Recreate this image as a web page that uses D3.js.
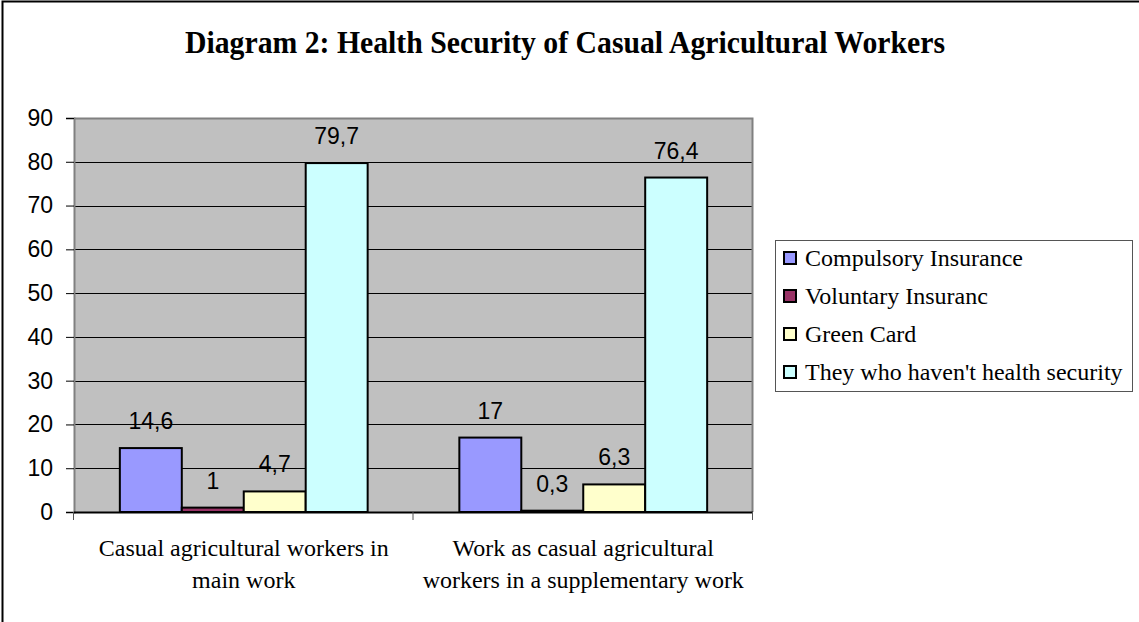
<!DOCTYPE html>
<html>
<head>
<meta charset="utf-8">
<script src="https://cdn.jsdelivr.net/npm/d3@7"></script>
<style>
  body { margin: 0; background: #fff; }
  svg { display: block; }
</style>
</head>
<body>
<div id="chart"></div>
<script>
const categories = [
  ['Casual agricultural workers in', 'main work'],
  ['Work as casual agricultural', 'workers in a supplementary work'],
];
const seriesNames = [
  'Compulsory Insurance',
  'Voluntary Insuranc',
  'Green Card',
  "They who haven't health security",
];
const seriesColors = ['#9999FF', '#993366', '#FFFFCC', '#CCFFFF'];
const values = [
  [14.6, 1, 4.7, 79.7],
  [17, 0.3, 6.3, 76.4],
];
const labels = [
  ['14,6', '1', '4,7', '79,7'],
  ['17', '0,3', '6,3', '76,4'],
];
const yTicks = [0, 10, 20, 30, 40, 50, 60, 70, 80, 90];

const size = { width: 1139, height: 622 };
const plot = { left: 74, right: 753, top: 118, bottom: 512 };
const sans = 'Liberation Sans, Arial, sans-serif';
const serif = 'Liberation Serif, Times New Roman, serif';

const svg = d3
  .select('#chart')
  .append('svg')
  .attr('width', size.width)
  .attr('height', size.height);

// outer frame (only left/top visible in the picture)
svg
  .append('rect')
  .attr('x', 2.5)
  .attr('y', 1.5)
  .attr('width', size.width + 10)
  .attr('height', size.height + 10)
  .attr('fill', '#fff')
  .attr('stroke', '#000')
  .attr('stroke-width', 2);

svg
  .append('text')
  .attr('x', 565)
  .attr('y', 53)
  .attr('text-anchor', 'middle')
  .attr('font-family', serif)
  .attr('font-weight', 'bold')
  .attr('font-size', 31)
  .attr('textLength', 760)
  .attr('lengthAdjust', 'spacingAndGlyphs')
  .text('Diagram 2: Health Security of Casual Agricultural Workers');

const x0 = d3
  .scaleBand()
  .domain(d3.range(categories.length))
  .range([plot.left, plot.right]);

const x1 = d3
  .scaleBand()
  .domain(d3.range(seriesNames.length))
  .range([0, x0.bandwidth()])
  .paddingOuter(0.74);

const y = d3.scaleLinear().domain([0, 90]).range([plot.bottom, plot.top]);

// plot background
svg
  .append('rect')
  .attr('x', plot.left)
  .attr('y', plot.top)
  .attr('width', plot.right - plot.left)
  .attr('height', plot.bottom - plot.top)
  .attr('fill', '#C0C0C0');

// gridlines
svg
  .append('g')
  .selectAll('line')
  .data(yTicks.slice(1, -1))
  .join('line')
  .attr('x1', plot.left)
  .attr('x2', plot.right)
  .attr('y1', (d) => Math.round(y(d)) + 0.5)
  .attr('y2', (d) => Math.round(y(d)) + 0.5)
  .attr('stroke', '#000')
  .attr('stroke-width', 1);

// frame top/right
svg
  .append('path')
  .attr('d', `M${plot.left},${plot.top + 0.5} H${plot.right - 0.5} V${plot.bottom}`)
  .attr('fill', 'none')
  .attr('stroke', '#808080')
  .attr('stroke-width', 2);

// bars
const groups = svg
  .append('g')
  .selectAll('g')
  .data(values)
  .join('g')
  .attr('transform', (d, i) => `translate(${x0(i)},0)`);

groups
  .selectAll('rect')
  .data((d) => d)
  .join('rect')
  .attr('x', (d, j) => x1(j))
  .attr('width', x1.bandwidth())
  .attr('y', (d) => y(d))
  .attr('height', (d) => y(0) - y(d))
  .attr('fill', (d, j) => seriesColors[j])
  .attr('stroke', '#000')
  .attr('stroke-width', 2);

groups
  .selectAll('text')
  .data((d, i) => d.map((v, j) => ({ v, label: labels[i][j] })))
  .join('text')
  .attr('x', (d, j) => x1(j) + x1.bandwidth() / 2)
  .attr('y', (d) => y(d.v) - 19)
  .attr('text-anchor', 'middle')
  .attr('font-family', sans)
  .attr('font-size', 23)
  .attr('fill', '#000')
  .text((d) => d.label);

// y axis
const yAxis = svg
  .append('g')
  .attr('transform', `translate(${plot.left},0)`)
  .call(d3.axisLeft(y).tickValues(yTicks).tickSize(8).tickPadding(13).tickFormat(d3.format('d')));
yAxis.select('.domain').attr('stroke', '#808080').attr('stroke-width', 2);
yAxis.selectAll('.tick line').attr('stroke', '#000');
yAxis
  .selectAll('.tick text')
  .attr('font-family', sans)
  .attr('font-size', 23)
  .attr('fill', '#000');

// x axis
const xAxis = svg.append('g');
xAxis
  .append('line')
  .attr('x1', plot.left)
  .attr('x2', plot.right)
  .attr('y1', plot.bottom + 0.5)
  .attr('y2', plot.bottom + 0.5)
  .attr('stroke', '#000')
  .attr('stroke-width', 2);
xAxis
  .selectAll('.cat-tick')
  .data(d3.range(categories.length + 1))
  .join('line')
  .attr('class', 'cat-tick')
  .attr('x1', (i) => (i < categories.length ? x0(i) : plot.right) - 0.5)
  .attr('x2', (i) => (i < categories.length ? x0(i) : plot.right) - 0.5)
  .attr('y1', plot.bottom)
  .attr('y2', plot.bottom + 8)
  .attr('stroke', '#555')
  .attr('stroke-width', 1);

xAxis
  .selectAll('.cat-label')
  .data(categories)
  .join('text')
  .attr('class', 'cat-label')
  .attr('text-anchor', 'middle')
  .attr('font-family', serif)
  .attr('font-size', 24)
  .attr('fill', '#000')
  .each(function (lines, i) {
    d3.select(this)
      .selectAll('tspan')
      .data(lines)
      .join('tspan')
      .attr('x', x0(i) + x0.bandwidth() / 2)
      .attr('y', (d, k) => 556 + k * 32)
      .text((d) => d);
  });

// legend
const legend = svg.append('g').attr('transform', 'translate(775,240)');
legend
  .append('rect')
  .attr('x', 0.5)
  .attr('y', 0.5)
  .attr('width', 357)
  .attr('height', 151)
  .attr('fill', '#fff')
  .attr('stroke', '#555')
  .attr('stroke-width', 1);

const items = legend
  .selectAll('.item')
  .data(seriesNames)
  .join('g')
  .attr('class', 'item')
  .attr('transform', (d, i) => `translate(0,${18 + i * 38})`);

items
  .append('rect')
  .attr('x', 9)
  .attr('y', -6)
  .attr('width', 12)
  .attr('height', 12)
  .attr('fill', (d, i) => seriesColors[i])
  .attr('stroke', '#000')
  .attr('stroke-width', 2);

items
  .append('text')
  .attr('x', 30)
  .attr('y', 8)
  .attr('font-family', serif)
  .attr('font-size', 24)
  .attr('fill', '#000')
  .text((d) => d);
</script>
</body>
</html>
